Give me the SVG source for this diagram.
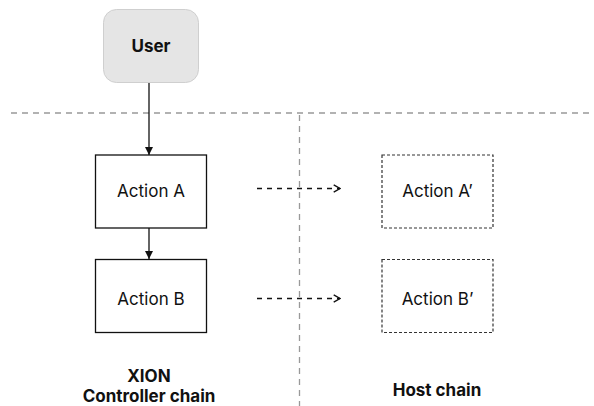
<svg xmlns="http://www.w3.org/2000/svg" width="594" height="406" viewBox="0 0 594 406">
<defs>
<style>
text{font-family:Inter,"Noto Sans","Liberation Sans",sans-serif;fill:#111;text-anchor:middle}
.lbl{font-size:17px}
.bold{font-size:17px;font-weight:700}
.box{fill:#fff;stroke:#111;stroke-width:1.3}
.dbox{fill:#fff;stroke:#333;stroke-width:1.2;stroke-dasharray:3 2}
.sep{stroke:#999;stroke-width:1.3;stroke-dasharray:6 5;fill:none}
.conn{stroke:#111;stroke-width:1.3;fill:none}
.dconn{stroke:#111;stroke-width:1.3;fill:none;stroke-dasharray:5 5}
</style>
<marker id="tri" viewBox="0 0 10 10" refX="10" refY="5" markerWidth="8" markerHeight="8" markerUnits="userSpaceOnUse" orient="auto">
<path d="M0,0 L10,5 L0,10 z" fill="#111"/>
</marker>
<marker id="chev" viewBox="0 0 10 10" refX="9" refY="5" markerWidth="9" markerHeight="9" markerUnits="userSpaceOnUse" orient="auto">
<path d="M2,1 L9,5 L2,9" fill="none" stroke="#111" stroke-width="1.5"/>
</marker>
</defs>
<rect width="594" height="406" fill="#fff"/>
<g id="separators">
<line class="sep" x1="11" y1="113" x2="594" y2="113"/>
<line class="sep" x1="299.5" y1="115" x2="299.5" y2="406"/>
</g>
<g id="connectors">
<line class="conn" x1="149" y1="83" x2="149" y2="155" marker-end="url(#tri)"/>
<line class="conn" x1="149" y1="228" x2="149" y2="259" marker-end="url(#tri)"/>
<line class="dconn" x1="257" y1="188.5" x2="340" y2="188.5" marker-end="url(#chev)"/>
<line class="dconn" x1="257" y1="298.5" x2="340" y2="298.5" marker-end="url(#chev)"/>
</g>
<g id="user">
<rect x="103.5" y="9.5" width="95" height="73" rx="13" fill="#e5e5e5" stroke="#cfcfcf" stroke-width="1"/>
<text class="bold" x="151" y="52">User</text>
</g>
<g id="actionA">
<rect class="box" x="95.5" y="155" width="111" height="73"/>
<text class="lbl" x="151" y="197">Action A</text>
</g>
<g id="actionB">
<rect class="box" x="95.5" y="259.5" width="111" height="73"/>
<text class="lbl" x="151" y="305">Action B</text>
</g>
<g id="actionA2">
<rect class="dbox" x="382" y="155" width="111" height="73"/>
<text class="lbl" x="437.5" y="197">Action A’</text>
</g>
<g id="actionB2">
<rect class="dbox" x="382" y="259.5" width="111" height="73"/>
<text class="lbl" x="437.5" y="305">Action B’</text>
</g>
<g id="labels">
<text class="bold" x="149" y="382">XION</text>
<text class="bold" x="149" y="402">Controller chain</text>
<text class="bold" x="437" y="396">Host chain</text>
</g>
</svg>
